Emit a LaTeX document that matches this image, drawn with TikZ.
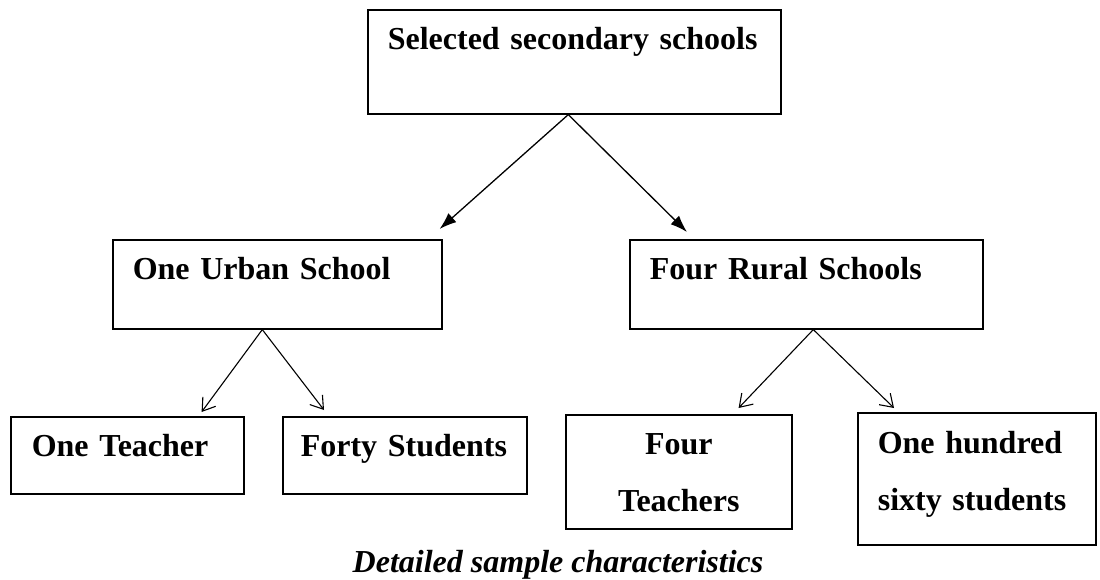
\documentclass[tikz,border=0pt]{standalone}
\usepackage{fontspec}
\setmainfont{Liberation Serif}
\usetikzlibrary{arrows.meta}

\begin{document}
\begin{tikzpicture}[x=1pt,y=-1pt,
  box/.style={draw,line width=1.6pt,anchor=north west,inner ysep=0pt,inner xsep=20pt,
    text height=40pt,align=left,font=\fontsize{32pt}{57pt}\selectfont\bfseries},
  bigarrow/.style={line width=1.3pt,-{Latex[length=17pt,width=12pt]}},
  smallarrow/.style={line width=1.1pt,-{Straight Barb[length=12pt,width=16pt]}}]
  \useasboundingbox (0,0) rectangle (1100,580);
  \node[box,text width=373pt,text depth=64pt] (schools) at (367,9) {Selected secondary schools};
  \node[box,text width=289pt,text depth=49pt] (urban) at (112,239) {One Urban School};
  \node[box,text width=313pt,text depth=49pt] (rural) at (629,239) {Four Rural Schools};
  \node[box,inner xsep=21pt,text width=191pt,text depth=37pt] (uteacher) at (10,416) {One Teacher};
  \node[box,inner xsep=18pt,text width=208pt,text depth=37pt] (ustudents) at (282,416) {Forty Students};
  \node[box,inner xsep=10pt,text width=206pt,text depth=74pt,align=center] (rteachers) at (565,414) {Four\\Teachers};
  \node[box,text height=41pt,text width=198pt,text depth=91pt] (rstudents) at (857,412) {One hundred\\sixty students};
  % arrows start a little off the box centres, as in the sketch
  \draw[bigarrow] ([xshift=-6]schools.south) -- ([shift={(-3,-10)}]urban.north east);
  \draw[bigarrow] ([xshift=-6]schools.south) -- ([shift={(58,-7)}]rural.north west);
  \draw[smallarrow] ([xshift=-15]urban.south) -- ([shift={(-43,-4)}]uteacher.north east);
  \draw[smallarrow] ([xshift=-15]urban.south) -- ([shift={(42,-6)}]ustudents.north west);
  \draw[smallarrow] ([xshift=7]rural.south) -- ([shift={(-54,-6)}]rteachers.north east);
  \draw[smallarrow] ([xshift=7]rural.south) -- ([shift={(37,-4)}]rstudents.north west);
  \node[anchor=base,font=\fontsize{32pt}{38pt}\selectfont\bfseries\itshape] (caption) at (558,572) {Detailed sample characteristics};
\end{tikzpicture}
\end{document}
